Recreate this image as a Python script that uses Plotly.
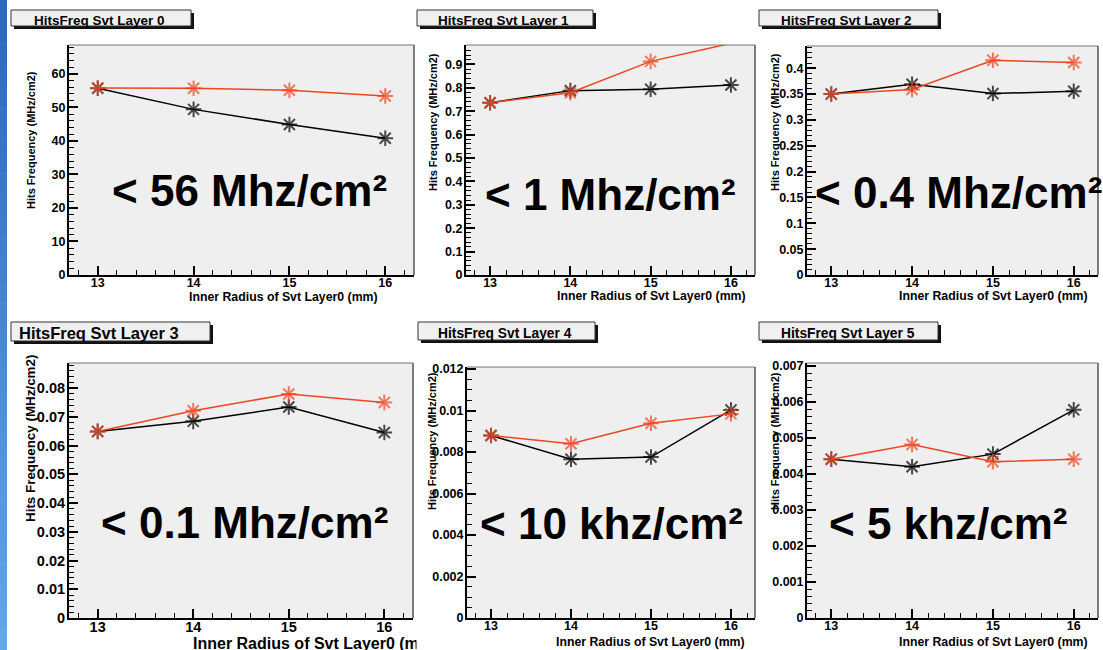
import plotly.graph_objects as go

# ---------------- data ----------------
radius = [13, 14, 15, 16]

layer0_black = [55.7, 49.4, 44.9, 40.8]
layer0_red = [55.8, 55.7, 55.1, 53.4]
layer1_black = [0.736, 0.788, 0.794, 0.812]
layer1_red = [0.736, 0.779, 0.913, 0.99]
layer2_black = [0.350, 0.369, 0.351, 0.3555]
layer2_red = [0.350, 0.359, 0.4155, 0.411]
layer3_black = [0.0649, 0.0684, 0.0734, 0.0645]
layer3_red = [0.0649, 0.0721, 0.0779, 0.0750]
layer4_black = [0.0088, 0.00765, 0.00776, 0.01003]
layer4_red = [0.0088, 0.0084, 0.00939, 0.00984]
layer5_black = [0.00441, 0.0042, 0.00455, 0.00578]
layer5_red = [0.00441, 0.00482, 0.00434, 0.00441]

titles = ["HitsFreq Svt Layer 0", "HitsFreq Svt Layer 1", "HitsFreq Svt Layer 2",
          "HitsFreq Svt Layer 3", "HitsFreq Svt Layer 4", "HitsFreq Svt Layer 5"]
limits = ["< 56 Mhz/cm²", "< 1 Mhz/cm²", "< 0.4 Mhz/cm²",
          "< 0.1 Mhz/cm²", "< 10 khz/cm²", "< 5 khz/cm²"]
x_title = "Inner Radius of Svt Layer0 (mm)"
y_title = "Hits Frequency (MHz/cm2)"

black_series = [layer0_black, layer1_black, layer2_black, layer3_black, layer4_black, layer5_black]
red_series = [layer0_red, layer1_red, layer2_red, layer3_red, layer4_red, layer5_red]

# ---------------- layout geometry (pixels) ----------------
W, H = 1103, 650
FONT = "Liberation Sans"
RED = "#ee4422"

def px(x):
    return x / W

def py(y):
    return 1 - y / H

panels = [
    dict(frame=(69, 414, 45, 275), ymax=68.6, dt=10, mdt=2, tf=12.5,
         tbox=(11, 191, 10, 26), ttx=32, tty=20, ttf=13.5,
         ytx=31, yty=140, xtx=380, xty=297, atf=12.3, atf_y=11, big=(110, 190)),
    dict(frame=(466, 755, 45, 275), ymax=0.983, dt=0.1, mdt=0.02, tf=12.5,
         tbox=(417, 593, 10, 26), ttx=436, tty=20, ttf=13.5,
         ytx=433, yty=122, xtx=748, xty=296, atf=12.3, atf_y=11, big=(483, 194)),
    dict(frame=(807, 1098, 46, 275), ymax=0.443, dt=0.05, mdt=0.01, tf=12.5,
         tbox=(759, 938, 10, 26), ttx=779, tty=20, ttf=13.5,
         ytx=775, yty=122, xtx=1090, xty=296, atf=12.3, atf_y=11, big=(813, 193)),
    dict(frame=(69, 413, 363, 618), ymax=0.0887, dt=0.01, mdt=0.002, tf=14.5,
         tbox=(11, 210, 322, 341), ttx=17, tty=333, ttf=16.5,
         ytx=30, yty=439, xtx=191, xty=643, atf=16, atf_y=13.4, big=(99, 522)),
    dict(frame=(467, 755, 367, 618), ymax=0.0121, dt=0.002, mdt=0.0005, tf=12.5,
         tbox=(418, 595, 322, 340), ttx=436, tty=333, ttf=13.8,
         ytx=432, yty=441, xtx=747, xty=642, atf=12.3, atf_y=11, big=(478, 523)),
    dict(frame=(807, 1098, 363, 618), ymax=0.00708, dt=0.001, mdt=0.0002, tf=12.5,
         tbox=(759, 938, 322, 340), ttx=779, tty=333, ttf=13.8,
         ytx=775, yty=441, xtx=1090, xty=642, atf=12.3, atf_y=11, big=(827, 523)),
]

fig = go.Figure()
shapes = []
annotations = []
layout_axes = {}

# blue strip at left edge
n_strip = 30
c0 = (44, 104, 190)
c1 = (98, 166, 236)
for i in range(n_strip):
    f = i / (n_strip - 1)
    col = "rgb(%d,%d,%d)" % tuple(int(c0[k] + (c1[k] - c0[k]) * f) for k in range(3))
    shapes.append(dict(type="rect", xref="paper", yref="paper",
                       x0=0, x1=px(7), y0=py(H * (i + 1) / n_strip + 0.5), y1=py(H * i / n_strip),
                       fillcolor=col, line=dict(width=0), layer="below"))

for i, p in enumerate(panels):
    n = i + 1
    xa = "xaxis" if n == 1 else "xaxis%d" % n
    ya = "yaxis" if n == 1 else "yaxis%d" % n
    xr = "x" if n == 1 else "x%d" % n
    yr = "y" if n == 1 else "y%d" % n
    l, r, t, b = p["frame"]
    tickfont = dict(family=FONT, size=p["tf"], color="black", weight="bold")
    layout_axes[xa] = dict(
        domain=[px(l), px(r)], anchor=yr, range=[12.7, 16.3], automargin=False,
        tickmode="linear", tick0=13, dtick=1, ticks="inside", ticklen=9, tickwidth=1.5,
        tickcolor="black", showline=True, linecolor="black", linewidth=2,
        showgrid=False, zeroline=False, tickfont=tickfont, ticklabelstandoff=-5,
        minor=dict(ticks="inside", dtick=0.2, tick0=13, ticklen=5, tickwidth=1.2,
                   tickcolor="black", showgrid=False),
    )
    layout_axes[ya] = dict(
        domain=[py(b), py(t)], anchor=xr, range=[0, p["ymax"]], automargin=False,
        tickmode="linear", tick0=0, dtick=p["dt"], ticks="inside", ticklen=9, tickwidth=1.5,
        tickcolor="black", showline=True, linecolor="black", linewidth=2,
        showgrid=False, zeroline=False, tickfont=tickfont, exponentformat="none",
        ticklabelstandoff=-1,
        minor=dict(ticks="inside", dtick=p["mdt"], tick0=0, ticklen=5, tickwidth=1.2,
                   tickcolor="black", showgrid=False),
    )
    # plot area background
    shapes.append(dict(type="rect", xref="paper", yref="paper",
                       x0=px(l), x1=px(r), y0=py(b), y1=py(t),
                       fillcolor="#efefef", line=dict(width=0), layer="below"))
    # gray top/right frame lines
    shapes.append(dict(type="line", xref="paper", yref="paper",
                       x0=px(l), x1=px(r), y0=py(t), y1=py(t),
                       line=dict(color="#777777", width=1.2)))
    shapes.append(dict(type="line", xref="paper", yref="paper",
                       x0=px(r), x1=px(r), y0=py(t), y1=py(b),
                       line=dict(color="#555555", width=1.5)))
    # title box with shadow
    bx0, bx1, by0, by1 = p["tbox"]
    shapes.append(dict(type="rect", xref="paper", yref="paper",
                       x0=px(bx0 + 3), x1=px(bx1 + 3), y0=py(by1 + 3), y1=py(by0 + 3),
                       fillcolor="#111111", line=dict(width=0)))
    shapes.append(dict(type="rect", xref="paper", yref="paper",
                       x0=px(bx0), x1=px(bx1), y0=py(by1), y1=py(by0),
                       fillcolor="#f0f0f0", line=dict(color="#333333", width=1)))
    annotations.append(dict(text="<b>%s</b>" % titles[i], xref="paper", yref="paper",
                            x=px(p["ttx"]), y=py(p["tty"]), xanchor="left", yanchor="middle",
                            showarrow=False, font=dict(family=FONT, size=p["ttf"], color="black")))
    # axis titles
    annotations.append(dict(text="<b>%s</b>" % y_title, xref="paper", yref="paper",
                            x=px(p["ytx"]), y=py(p["yty"]), xanchor="center", yanchor="middle",
                            textangle=-90, showarrow=False,
                            font=dict(family=FONT, size=p["atf_y"], color="black")))
    annotations.append(dict(text="<b>%s</b>" % x_title, xref="paper", yref="paper",
                            x=px(p["xtx"]), y=py(p["xty"]),
                            xanchor="left" if i == 3 else "right", yanchor="middle",
                            showarrow=False, font=dict(family=FONT, size=p["atf"], color="black")))
    # big limit text
    annotations.append(dict(text="<b>%s</b>" % limits[i], xref="paper", yref="paper",
                            x=px(p["big"][0]), y=py(p["big"][1]), xanchor="left", yanchor="middle",
                            showarrow=False, font=dict(family=FONT, size=44, color="black")))

    # traces
    for vals, col in ((black_series[i], "black"), (red_series[i], RED)):
        sizes = [0 if v > p["ymax"] else 13 for v in vals]
        fig.add_trace(go.Scatter(
            x=radius, y=vals, xaxis=xr, yaxis=yr, mode="lines+markers",
            line=dict(color=col, width=1.5),
            marker=dict(symbol="asterisk-open", size=sizes, color=col,
                        line=dict(color=col, width=2)),
            showlegend=False, hoverinfo="skip",
        ))

# white cover clipping the overflowing x title of layer 3
annotations.append(dict(text=" ", xref="paper", yref="paper", x=px(416), y=py(630),
                        xanchor="left", yanchor="top", width=40, height=22,
                        bgcolor="white", showarrow=False))

fig.update_layout(
    width=W, height=H,
    margin=dict(l=0, r=0, t=0, b=0, pad=0, autoexpand=False),
    paper_bgcolor="white", plot_bgcolor="rgba(0,0,0,0)",
    shapes=shapes, annotations=annotations,
    font=dict(family=FONT, color="black"),
    showlegend=False,
    **layout_axes,
)

fig.write_html(
    "out.html",
    config={"displayModeBar": False},
    post_script="document.body.style.margin='0';document.body.style.overflow='hidden';",
)
